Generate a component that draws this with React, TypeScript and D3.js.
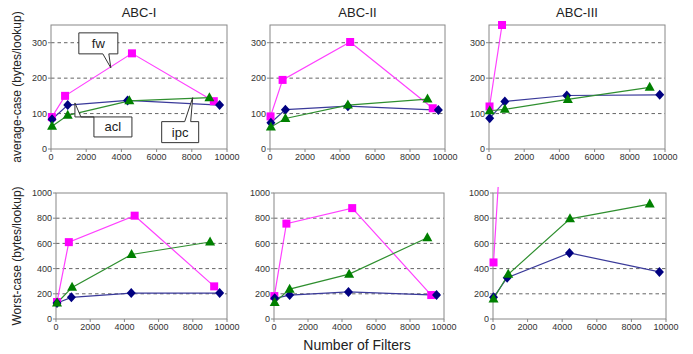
import React from 'react';
import * as d3 from 'd3';

const W = 693;
const H = 354;

const titles = ['ABC-I', 'ABC-II', 'ABC-III'];
const xTicks = [0, 2000, 4000, 6000, 8000, 10000];
const avgTicks = [0, 100, 200, 300];
const worstTicks = [0, 200, 400, 600, 800, 1000];

// [number of filters, bytes/lookup]
const avgFwI = [[50, 90], [800, 150], [4600, 270], [9250, 135]];
const avgAclI = [[60, 84], [950, 124], [4350, 137], [9580, 124]];
const avgIpcI = [[60, 64], [950, 95], [4450, 136], [9000, 145]];

const avgFwII = [[30, 92], [720, 195], [4580, 302], [9300, 115]];
const avgAclII = [[50, 74], [880, 111], [4450, 121], [9620, 110]];
const avgIpcII = [[50, 62], [880, 86], [4450, 124], [9000, 141]];

const avgFwIII = [[30, 120], [740, 350]];
const avgAclIII = [[40, 87], [900, 134], [4420, 151], [9700, 153]];
const avgIpcIII = [[40, 108], [900, 112], [4480, 140], [9130, 174]];

const worstFwI = [[60, 135], [750, 610], [4600, 820], [9250, 259]];
const worstAclI = [[60, 127], [900, 172], [4400, 206], [9570, 206]];
const worstIpcI = [[60, 127], [940, 251], [4420, 512], [9010, 611]];

const worstFwII = [[20, 182], [730, 757], [4600, 880], [9250, 190]];
const worstAclII = [[40, 164], [920, 190], [4380, 215], [9560, 190]];
const worstIpcII = [[40, 130], [920, 237], [4420, 356], [9020, 645]];

const worstFwIII = [[30, 449], [730, 2020]];
const worstAclIII = [[30, 172], [820, 328], [4420, 524], [9620, 374]];
const worstIpcIII = [[30, 159], [880, 355], [4450, 795], [9060, 912]];

const seriesStyle = [
  { name: 'fw', line: '#ff40ff', fill: '#ff00ff', shape: 'square' },
  { name: 'acl', line: '#3a3a9a', fill: '#000080', shape: 'diamond' },
  { name: 'ipc', line: '#2f8f2f', fill: '#008000', shape: 'triangle' },
];

// callouts on ABC-I average-case: tip in data units, box offset in px from tip
const callouts = [
  { text: 'fw', tip: [3400, 229], box: [-32, -35, 39, 21], base: [-8, -2] },
  { text: 'acl', tip: [1360, 130], box: [19, 14, 38, 20], base: [0, 9] },
  { text: 'ipc', tip: [8050, 145], box: [-31, 24, 37, 21], base: [-8, 0] },
];

const rows = [
  {
    top: 25, bottom: 149, max: 350, ticks: avgTicks,
    label: 'average-case (bytes/lookup)',
    frames: [[51, 227], [270, 445], [489, 665]],
    data: [[avgFwI, avgAclI, avgIpcI], [avgFwII, avgAclII, avgIpcII], [avgFwIII, avgAclIII, avgIpcIII]],
  },
  {
    top: 193, bottom: 319, max: 1000, ticks: worstTicks,
    label: 'Worst-case (bytes/lookup)',
    frames: [[56, 227], [274, 444], [493, 666]],
    data: [[worstFwI, worstAclI, worstIpcI], [worstFwII, worstAclII, worstIpcII], [worstFwIII, worstAclIII, worstIpcIII]],
  },
];

const font = 'Liberation Sans, Arial, sans-serif';

function marker(shape: string, x: number, y: number, fill: string, key: string) {
  if (shape === 'square') {
    return <rect key={key} x={x - 4} y={y - 4} width={8} height={8} fill={fill} />;
  }
  if (shape === 'diamond') {
    return <path key={key} d={`M${x},${y - 5}L${x + 4.5},${y}L${x},${y + 5}L${x - 4.5},${y}Z`} fill={fill} />;
  }
  return <path key={key} d={`M${x},${y - 5.5}L${x + 5},${y + 3.5}L${x - 5},${y + 3.5}Z`} fill={fill} />;
}

function Panel({ row, col, ri }: any) {
  const [x0, x1] = row.frames[col];
  const x = d3.scaleLinear().domain([0, 10000]).range([x0, x1]);
  const y = d3.scaleLinear().domain([0, row.max]).range([row.bottom, row.top]);
  const line = d3.line<number[]>().x(d => x(d[0])).y(d => y(d[1]));
  const clipId = `clip-${ri}-${col}`;
  const textCol = '#333';
  return (
    <g>
      <defs>
        <clipPath id={clipId}>
          <rect x={x0} y={row.top - 6} width={x1 - x0 + 10} height={row.bottom - row.top + 12} />
        </clipPath>
      </defs>
      {row.ticks.filter((t: number) => t > 0 && t < row.max).map((t: number) => (
        <line key={'g' + t} x1={x0} x2={x1} y1={y(t)} y2={y(t)} stroke="#555" strokeWidth={0.9} strokeDasharray="3.5,3" />
      ))}
      <rect x={x0} y={row.top} width={x1 - x0} height={row.bottom - row.top} fill="none" stroke="#888" strokeWidth={1} />
      {xTicks.map(t => (
        <g key={'x' + t}>
          <line x1={x(t)} x2={x(t)} y1={row.bottom} y2={row.bottom + 3} stroke="#888" />
          <text x={x(t)} y={row.bottom + 11} textAnchor="middle" fontSize={9} fill={textCol} fontFamily={font}>{t}</text>
        </g>
      ))}
      {row.ticks.map((t: number) => (
        <g key={'y' + t}>
          <line x1={x0 - 3} x2={x0} y1={y(t)} y2={y(t)} stroke="#888" />
          <text x={x0 - 4} y={y(t)} dy="0.35em" textAnchor="end" fontSize={9} fill={textCol} fontFamily={font}>{t}</text>
        </g>
      ))}
      {ri === 0 && (
        <text x={(x0 + x1) / 2} y={17} textAnchor="middle" fontSize={13} fill="#222" fontFamily={font}>{titles[col]}</text>
      )}
      <g clipPath={`url(#${clipId})`}>
        {row.data[col].map((s: number[][], i: number) => (
          <path key={'l' + i} d={line(s) || ''} fill="none" stroke={seriesStyle[i].line} strokeWidth={1.2} />
        ))}
      </g>
      {row.data[col].map((s: number[][], i: number) =>
        s.filter(d => d[1] <= row.max).map((d, j) =>
          marker(seriesStyle[i].shape, x(d[0]), y(d[1]), seriesStyle[i].fill, `m${i}-${j}`)
        )
      )}
      {ri === 0 && col === 0 && callouts.map(c => {
        const tx = x(c.tip[0]);
        const ty = y(c.tip[1]);
        const [dx, dy, w, h] = c.box;
        const bx = tx + dx;
        const by = ty + dy;
        const above = dy < 0;
        const ex = by + (above ? h : 0);
        const b0 = tx + c.base[0];
        const b1 = b0 + 6;
        const d = above
          ? `M${bx},${by}H${bx + w}V${ex}H${b1}L${tx},${ty}L${b0},${ex}H${bx}Z`
          : `M${bx},${by}H${b0}L${tx},${ty}L${b1},${by}H${bx + w}V${by + h}H${bx}Z`;
        return (
          <g key={c.text}>
            <path d={d} fill="#fff" stroke="#333" strokeWidth={1} />
            <text x={bx + w / 2} y={by + h / 2} dy="0.35em" textAnchor="middle" fontSize={13} fill="#222" fontFamily={font}>{c.text}</text>
          </g>
        );
      })}
    </g>
  );
}

export default function App() {
  return (
    <svg width={W} height={H} style={{ position: 'absolute', left: 0, top: 0, background: '#fff' }}>
      <rect width={W} height={H} fill="#fff" />
      {rows.map((row, ri) => (
        <g key={ri}>
          <text
            transform={`translate(17,${(row.top + row.bottom) / 2}) rotate(-90)`}
            textAnchor="middle" dy="0.35em" fontSize={12} fill="#222" fontFamily={font}
          >{row.label}</text>
          {[0, 1, 2].map(col => <Panel key={col} row={row} col={col} ri={ri} />)}
        </g>
      ))}
      <text x={357} y={350} textAnchor="middle" fontSize={14} fill="#222" fontFamily={font}>Number of Filters</text>
    </svg>
  );
}
